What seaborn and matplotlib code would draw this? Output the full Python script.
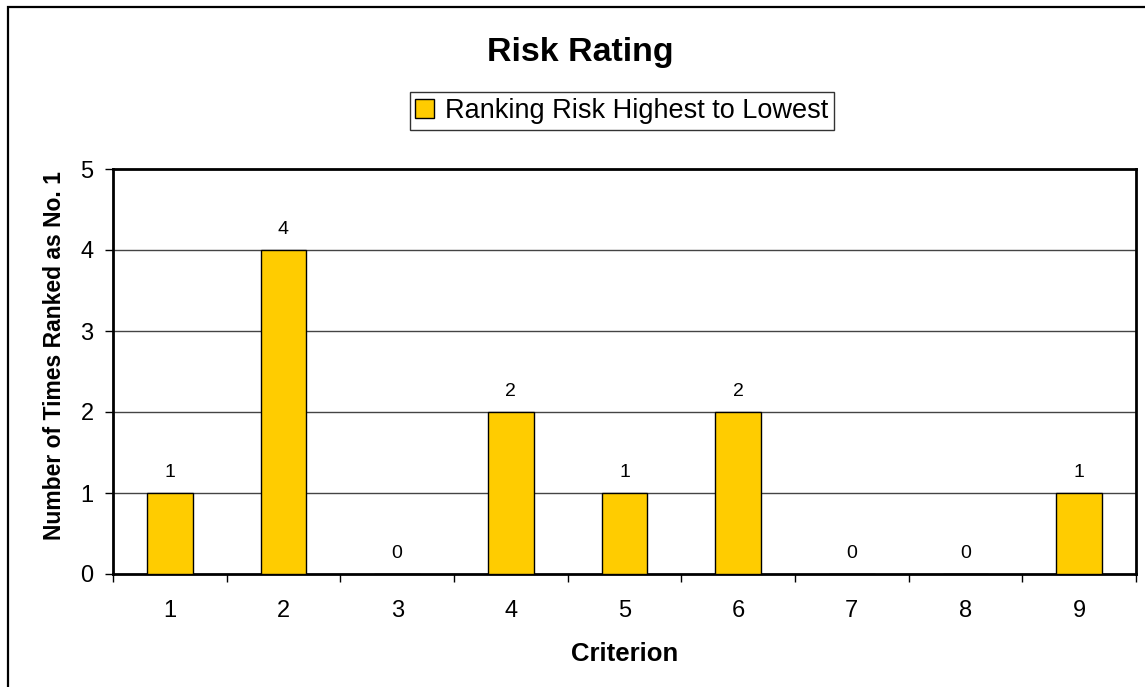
import matplotlib
matplotlib.use("Agg")
import matplotlib.pyplot as plt
import matplotlib.patches as mpatches
import seaborn as sns
import pandas as pd

# chart data
criteria = ["1", "2", "3", "4", "5", "6", "7", "8", "9"]
times_ranked_first = [1, 4, 0, 2, 1, 2, 0, 0, 1]
series_name = "Ranking Risk Highest to Lowest"

sns.set_style("white")
plt.rcParams["font.family"] = ["Liberation Sans", "DejaVu Sans"]
plt.rcParams["text.color"] = "black"
plt.rcParams["axes.labelcolor"] = "black"
plt.rcParams["xtick.color"] = "black"
plt.rcParams["ytick.color"] = "black"

df = pd.DataFrame({"Criterion": criteria, "Count": times_ranked_first})

fig = plt.figure(figsize=(11.45, 6.87), dpi=100)
ax = fig.add_axes([113 / 1145, 1 - 574 / 687, (1136 - 113) / 1145, (574 - 169) / 687])

# outer chart frame
fig.patches.append(mpatches.Rectangle((8 / 1145, -0.2), 1.5, 0.2 + 1 - 7 / 687,
                                      transform=fig.transFigure, fill=False,
                                      edgecolor="black", linewidth=1.6, zorder=0))

sns.barplot(data=df, x="Criterion", y="Count", color="#FFCC00", width=0.4,
            edgecolor="black", linewidth=1.0, saturation=1, ax=ax, zorder=3)

ax.set_ylim(0, 5)
ax.set_xlim(-0.5, len(criteria) - 0.5)
ax.set_yticks(range(0, 6))
for y in range(1, 5):
    ax.axhline(y, color="#444444", linewidth=1.0, zorder=1)

for spine in ax.spines.values():
    spine.set_visible(True)
    spine.set_color("black")
    spine.set_linewidth(2.0)

for i, v in enumerate(times_ranked_first):
    ax.text(i, v + 0.15, str(v), ha="center", va="bottom", fontsize=14)

# ticks: y ticks outside, x ticks between categories
ax.tick_params(axis="y", direction="out", length=6, width=1, labelsize=17, pad=8, left=True)
ax.tick_params(axis="x", which="major", length=0, labelsize=17, pad=19)
ax.set_xticks([i + 0.5 for i in range(-1, len(criteria))], minor=True)
ax.tick_params(axis="x", which="minor", direction="out", length=6, width=1, bottom=True)

ax.set_xlabel("Criterion", fontsize=18.5, fontweight="bold", labelpad=14)
ax.set_ylabel("Number of Times Ranked as No. 1", fontsize=16.5, fontweight="bold")
ax.yaxis.set_label_coords(-0.046, 0.54)

fig.text(580 / 1145, 1 - 52 / 687, "Risk Rating", ha="center", va="center",
         fontsize=24.5, fontweight="bold")

handle = mpatches.Patch(facecolor="#FFCC00", edgecolor="black", linewidth=1.0, label=series_name)
leg = fig.legend(handles=[handle], loc="center", bbox_to_anchor=(622 / 1145, 1 - 111 / 687),
                 fontsize=19.5, frameon=True, fancybox=False, handlelength=0.7,
                 handleheight=0.7, handletextpad=0.4, borderpad=0.22, borderaxespad=0)
leg.get_frame().set_edgecolor("black")
leg.get_frame().set_linewidth(1.0)

fig.savefig("out.png", dpi=100)
